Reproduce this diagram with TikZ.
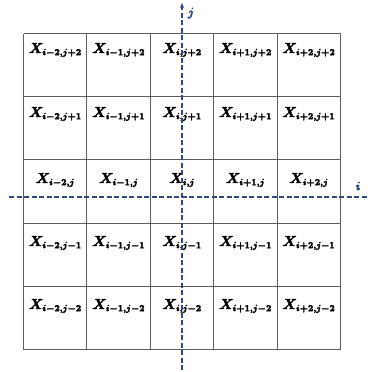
\documentclass[tikz,border=0pt]{standalone}
\usepackage{amsmath}
\DeclareMathSizes{14}{14}{9.5}{7}
\usetikzlibrary{arrows.meta}
\definecolor{axisblue}{HTML}{2F4B7E}
\definecolor{gridgray}{HTML}{5E5E5E}
\newcommand{\heavytext}[1]{\special{pdf:literal direct 2 Tr 0.35 w}#1\special{pdf:literal direct 0 Tr}}
\tikzset{
  gridline/.style={draw=gridgray, line width=1pt},
  axisline/.style={draw=axisblue, line width=1.5pt, dash pattern=on 5pt off 2.5pt},
  celllabel/.style={anchor=base, inner sep=0pt, font=\fontsize{14}{16}\selectfont\boldmath},
  axislabel/.style={inner sep=0pt, text=axisblue, font=\fontsize{13}{15}\selectfont\boldmath},
}
\newcommand{\cell}[1]{\heavytext{$X_{#1}$}}
\begin{document}
\begin{tikzpicture}[x=1pt, y=-1pt]
\useasboundingbox (0,0) rectangle (367,372);
% grid
\foreach \k in {0,...,5} {
  \draw[gridline] ({23.5+63.4*\k},33.5) -- ({23.5+63.4*\k},349.5);
  \draw[gridline] (23.5,{33.5+63.2*\k}) -- (340.5,{33.5+63.2*\k});
}
% labels
\node[celllabel] (a11) at (55.2,53) {\cell{i-2,j+2}};
\node[celllabel] (a12) at (118.6,53) {\cell{i-1,j+2}};
\node[celllabel] (a13) at (182,53) {\cell{i,j+2}};
\node[celllabel] (a14) at (245.4,53) {\cell{i+1,j+2}};
\node[celllabel] (a15) at (308.8,53) {\cell{i+2,j+2}};
\node[celllabel] (a21) at (55.2,117) {\cell{i-2,j+1}};
\node[celllabel] (a22) at (118.6,117) {\cell{i-1,j+1}};
\node[celllabel] (a23) at (182,117) {\cell{i,j+1}};
\node[celllabel] (a24) at (245.4,117) {\cell{i+1,j+1}};
\node[celllabel] (a25) at (308.8,117) {\cell{i+2,j+1}};
\node[celllabel] (a31) at (55.2,183) {\cell{i-2,j}};
\node[celllabel] (a32) at (118.6,183) {\cell{i-1,j}};
\node[celllabel] (a33) at (182,183) {\cell{i,j}};
\node[celllabel] (a34) at (245.4,183) {\cell{i+1,j}};
\node[celllabel] (a35) at (308.8,183) {\cell{i+2,j}};
\node[celllabel] (a41) at (55.2,246) {\cell{i-2,j-1}};
\node[celllabel] (a42) at (118.6,246) {\cell{i-1,j-1}};
\node[celllabel] (a43) at (182,246) {\cell{i,j-1}};
\node[celllabel] (a44) at (245.4,246) {\cell{i+1,j-1}};
\node[celllabel] (a45) at (308.8,246) {\cell{i+2,j-1}};
\node[celllabel] (a51) at (55.2,309) {\cell{i-2,j-2}};
\node[celllabel] (a52) at (118.6,309) {\cell{i-1,j-2}};
\node[celllabel] (a53) at (182,309) {\cell{i,j-2}};
\node[celllabel] (a54) at (245.4,309) {\cell{i+1,j-2}};
\node[celllabel] (a55) at (308.8,309) {\cell{i+2,j-2}};
% axes
\coordinate (ybot) at (182,370);
\coordinate (ytop) at (182,3);
\coordinate (xleft) at (9,197);
\coordinate (xright) at (367,197);
\draw[axisline, -{Stealth[length=5pt,width=4pt]}] (ybot) -- (ytop);
\draw[axisline] (xleft) -- (xright);
\node[axislabel] (jl) at (191,13) {\heavytext{$j$}};
\node[axislabel] (il) at (358,186) {\heavytext{$i$}};
\end{tikzpicture}
\end{document}
